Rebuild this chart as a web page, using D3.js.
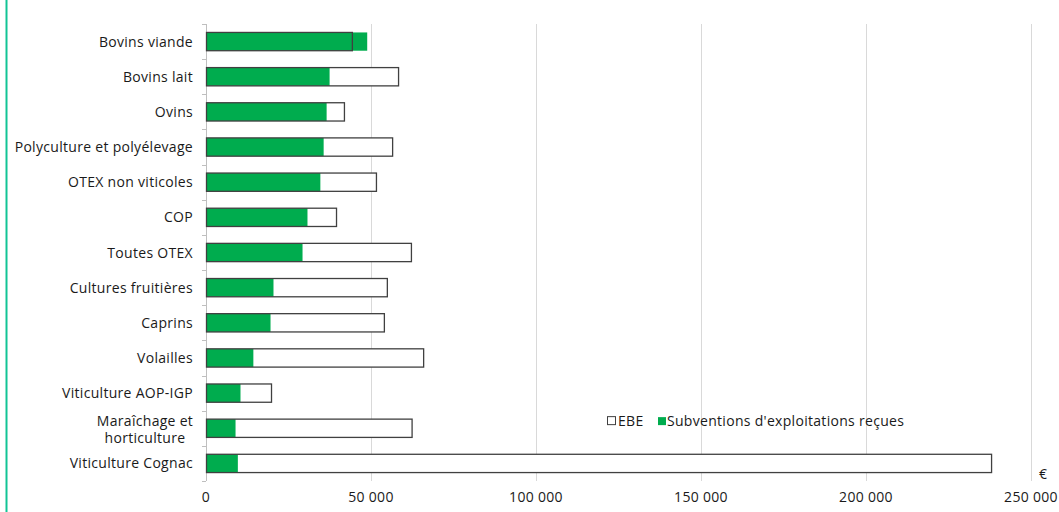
<!DOCTYPE html>
<html>
<head>
<meta charset="utf-8">
<script src="https://cdn.jsdelivr.net/npm/d3@7"></script>
<style>
  body { margin: 0; background: #fff; }
  text { font-family: "Open Sans", sans-serif; fill: #1a1a1a; letter-spacing: 0.3px; }
</style>
</head>
<body>
<div id="chart"></div>
<script>
let categories = ["Bovins viande", "Bovins lait", "Ovins", "Polyculture et polyélevage",
  "OTEX non viticoles", "COP", "Toutes OTEX", "Cultures fruitières", "Caprins",
  "Volailles", "Viticulture AOP-IGP", "Maraîchage et horticulture", "Viticulture Cognac"];

let ebe = [44200, 58200, 41800, 56400, 51500, 39400, 62100, 54800, 53900, 65800, 19700, 62300, 237900];

let subventions = [48700, 37300, 36400, 35500, 34500, 30600, 29100, 20300, 19400, 14200, 10300, 8800, 9500];

let xTicks = [0, 50000, 100000, 150000, 200000, 250000];

let seriesNames = ["EBE", "Subventions d'exploitations reçues"];

let margin = { top: 24, right: 28, bottom: 31, left: 206 };
let width = 1059, height = 512;
let innerW = width - margin.left - margin.right,
    innerH = height - margin.top - margin.bottom;

let svg = d3.select("#chart").append("svg")
    .attr("width", width).attr("height", height);

// left accent line
svg.append("line")
    .attr("x1", 6.5).attr("x2", 6.5).attr("y1", 0).attr("y2", height)
    .attr("stroke", "#12c495").attr("stroke-width", 2);

let g = svg.append("g").attr("transform", "translate(" + margin.left + "," + margin.top + ")");

let x = d3.scaleLinear().domain([0, 250000]).range([0, 825]);
let y = d3.scaleBand().domain(categories).range([0, innerH]).paddingInner(0.48).paddingOuter(0.24);

let fmt = function(d) { return d3.format(",")(d).replace(/,/g, "\u00a0"); };

// gridlines
g.selectAll(".grid").data(xTicks.slice(1)).enter().append("line")
    .attr("x1", d => x(d) + 0.5).attr("x2", d => x(d) + 0.5)
    .attr("y1", 0).attr("y2", innerH)
    .attr("stroke", "#d9d9d9").attr("stroke-width", 1);

// x labels
g.selectAll(".xl").data(xTicks).enter().append("text")
    .attr("x", d => x(d)).attr("y", innerH + 21)
    .attr("text-anchor", "middle").attr("font-size", 14)
    .text(fmt);

g.append("text").attr("x", 833).attr("y", innerH - 2)
    .attr("font-size", 14).text("€");

// y axis line and ticks
g.append("line").attr("x1", 0.5).attr("x2", 0.5).attr("y1", 0).attr("y2", innerH)
    .attr("stroke", "#bfbfbf");
let step = innerH / categories.length;
g.selectAll(".yt").data(d3.range(categories.length + 1)).enter().append("line")
    .attr("x1", -4).attr("x2", 0)
    .attr("y1", d => Math.round(d * step) + 0.5).attr("y2", d => Math.round(d * step) + 0.5)
    .attr("stroke", "#bfbfbf");

// bars
let rows = categories.map((c, i) => ({ cat: c, ebe: ebe[i], sub: subventions[i] }));

g.selectAll(".ebeFill").data(rows).enter().append("rect")
    .attr("x", 0).attr("y", d => y(d.cat))
    .attr("width", d => x(d.ebe)).attr("height", y.bandwidth())
    .attr("fill", "#fff");

g.selectAll(".sub").data(rows).enter().append("rect")
    .attr("x", 0.5).attr("y", d => y(d.cat))
    .attr("width", d => x(d.sub)).attr("height", y.bandwidth())
    .attr("fill", "#00ac4e");

g.selectAll(".ebeLine").data(rows).enter().append("rect")
    .attr("x", 0.5).attr("y", d => y(d.cat))
    .attr("width", d => x(d.ebe)).attr("height", y.bandwidth())
    .attr("fill", "none").attr("stroke", "#404040").attr("stroke-width", 1.3);

// category labels
let labels = g.selectAll(".yl").data(categories).enter().append("text")
    .attr("font-size", 14).attr("text-anchor", "end")
    .attr("x", -13)
    .attr("y", d => y(d) + y.bandwidth() / 2 + 5);

labels.each(function(d) {
  let t = d3.select(this);
  if (d === "Maraîchage et horticulture") {
    t.attr("text-anchor", "middle").attr("x", -61);
    t.append("tspan").attr("x", -61).attr("dy", "-0.55em").text("Maraîchage et");
    t.append("tspan").attr("x", -61).attr("dy", "1.22em").text("horticulture");
  } else {
    t.text(d);
  }
});

// legend
let legend = g.append("g").attr("transform", "translate(401," + (y("Maraîchage et horticulture") + 2) + ")");
legend.append("rect").attr("x", 0.5).attr("y", -4.5).attr("width", 8).attr("height", 8)
    .attr("fill", "#fff").attr("stroke", "#404040");
legend.append("text").attr("x", 11).attr("y", 5).attr("font-size", 14).text(seriesNames[0]);
legend.append("rect").attr("x", 51).attr("y", -4).attr("width", 8).attr("height", 8)
    .attr("fill", "#00ac4e");
legend.append("text").attr("x", 60).attr("y", 5).attr("font-size", 14).text(seriesNames[1]);
</script>
</body>
</html>
